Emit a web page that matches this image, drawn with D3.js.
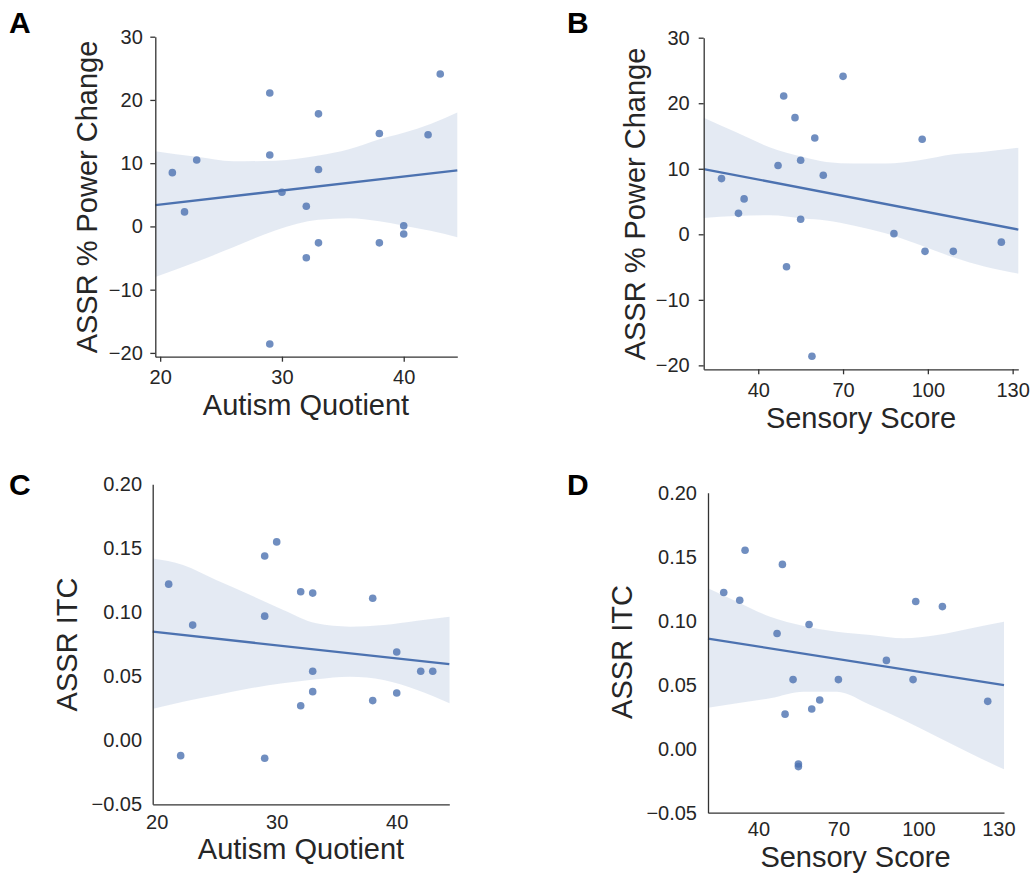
<!DOCTYPE html>
<html>
<head>
<meta charset="utf-8">
<script src="https://cdn.jsdelivr.net/npm/d3@7"></script>
<style>
  body { margin: 0; background: #fff; }
  text { font-family: "Liberation Sans", Arial, sans-serif; fill: #262626; }
</style>
</head>
<body>
<div id="canvas"></div>
<script>
"use strict"

/* ---------- DATA (one entry per subject) ---------- */
let autismQuotient = [21, 22, 23, 29, 29, 29, 30, 32, 32, 33, 33, 33, 38, 38, 40, 40, 42, 43];
let sensoryScore   = [27, 55, 47, 49, 55, 59, 35, 33, 50, 53, 63, 99, 60, 109, 88, 126, 98, 70];
let powerChange    = [8.5, 2.3, 10.5, 21.1, 11.3, -18.6, 5.4, 3.2, -4.95, 17.8, 9.0, -2.6, 14.7, -2.6, 0.1, -1.2, 14.5, 24.1];
let itc            = [0.122, -0.012, 0.090, 0.144, -0.014, 0.097, 0.155, 0.116, 0.027, 0.054, 0.038, 0.115, 0.031, 0.111, 0.069, 0.037, 0.054, 0.054];

/* confidence bands */
let bandAx  = [19.6, 23, 26, 29.5, 33, 35.5, 38, 40, 42.2, 44.4];
let bandAhi = [11.9, 11.0, 10.3, 10.4, 11.2, 12.2, 13.8, 14.8, 16.2, 18.0];
let bandAlo = [-8.0, -5.6, -3.3, -0.6, 1.05, 1.3, 0.8, 0.1, -0.7, -1.7];

let bandBx  = [20.7, 32, 44, 56, 64, 74, 85, 97, 109, 120, 132];
let bandBhi = [17.8, 15.6, 13.3, 11.8, 11.05, 10.8, 10.8, 11.3, 12.2, 12.6, 13.2];
let bandBlo = [2.5, 2.8, 2.9, 2.4, 2.1, 1.3, 0.15, -1.6, -3.5, -4.9, -6.0];

let bandCx  = [19.7, 22.2, 25, 27.8, 30.5, 33.3, 36.1, 38.9, 41.7, 44.4];
let bandChi = [0.142, 0.137, 0.125, 0.1135, 0.102, 0.0914, 0.0888, 0.090, 0.0934, 0.0966];
let bandClo = [0.0247, 0.0302, 0.0354, 0.0406, 0.0445, 0.0477, 0.0497, 0.0471, 0.0393, 0.0289];

let bandDx  = [21.1, 32, 44.4, 57, 69.4, 82, 94.4, 107, 119.4, 132.1];
let bandDhi = [0.1253, 0.1149, 0.1031, 0.0959, 0.0914, 0.0888, 0.0862, 0.0888, 0.094, 0.0992];
let bandDlo = [0.032, 0.0355, 0.0394, 0.0445, 0.0445, 0.0341, 0.0224, 0.0094, -0.0036, -0.0161];

/* tick labels */
let ticksAQ = [20, 30, 40];
let ticksSensory = [40, 70, 100, 130];
let ticksPower = [-20, -10, 0, 10, 20, 30];
let ticksItc = [-0.05, 0, 0.05, 0.10, 0.15, 0.20];

let blue = "#4C72B0";

let drawing = d3.select("#canvas")
  .append("svg")
  .attr("width", 1031)
  .attr("height", 874);

/* least-squares fit, like seaborn regplot */
function fitLine(xs, ys) {
  let mx = d3.mean(xs), my = d3.mean(ys);
  let sxy = d3.sum(xs, (x, i) => (x - mx) * (ys[i] - my));
  let sxx = d3.sum(xs, x => (x - mx) * (x - mx));
  let b = sxy / sxx;
  return x => my + b * (x - mx);
}

function drawPanel(p) {
  let x = d3.scaleLinear().domain(p.xDomain).range(p.xRange);
  let y = d3.scaleLinear().domain(p.yDomain).range(p.yRange);
  let g = drawing.append("g");

  // confidence band
  let area = d3.area()
    .x(d => x(d))
    .y0((d, i) => y(p.bandLo[i]))
    .y1((d, i) => y(p.bandHi[i]))
    .curve(d3.curveMonotoneX);
  g.append("path")
    .attr("d", area(p.bandX))
    .attr("fill", blue)
    .attr("fill-opacity", 0.15);

  // regression line
  let f = fitLine(p.xs, p.ys);
  g.append("line")
    .attr("x1", x(p.xDomain[0])).attr("y1", y(f(p.xDomain[0])))
    .attr("x2", x(p.xDomain[1])).attr("y2", y(f(p.xDomain[1])))
    .attr("stroke", blue)
    .attr("stroke-width", 2.3);

  // points
  g.selectAll("circle.pt")
    .data(p.xs)
    .join("circle")
    .attr("class", "pt")
    .attr("cx", d => x(d))
    .attr("cy", (d, i) => y(p.ys[i]))
    .attr("r", 3.8)
    .attr("fill", blue)
    .attr("fill-opacity", 0.8);

  // axes
  let xAxis = d3.axisBottom(x)
    .tickValues(p.xTicks)
    .tickSize(p.tick).tickSizeOuter(0)
    .tickPadding(p.xPad)
    .tickFormat(d3.format("d"));
  let yAxis = d3.axisLeft(y)
    .tickValues(p.yTicks)
    .tickSize(p.tick).tickSizeOuter(0)
    .tickPadding(p.yPad)
    .tickFormat(p.yFormat);

  let gx = g.append("g")
    .attr("transform", "translate(0," + p.yRange[0] + ")")
    .call(xAxis);
  let gy = g.append("g")
    .attr("transform", "translate(" + p.xRange[0] + ",0)")
    .call(yAxis);

  [gx, gy].forEach(a => {
    a.select(".domain").attr("stroke", "#333").attr("stroke-width", 1.3);
    a.selectAll(".tick line").attr("stroke", "#333").attr("stroke-width", 1.3);
    a.selectAll(".tick text")
      .attr("fill", "#262626")
      .style("font-size", "20px")
      .style("font-family", "'Liberation Sans', Arial, sans-serif");
  });

  // axis titles
  g.append("text")
    .attr("x", p.xLabelPos[0]).attr("y", p.xLabelPos[1])
    .attr("text-anchor", "middle")
    .style("font-size", "29px")
    .text(p.xLabel);
  g.append("text")
    .attr("transform", "translate(" + p.yLabelPos[0] + "," + p.yLabelPos[1] + ") rotate(-90)")
    .attr("text-anchor", "middle")
    .style("font-size", "29px")
    .text(p.yLabel);

  // panel letter
  g.append("text")
    .attr("x", p.letterPos[0]).attr("y", p.letterPos[1])
    .style("font-size", "30px")
    .style("font-weight", "bold")
    .style("fill", "#000")
    .text(p.letter);
}

let fmtPower = d => d3.format("d")(d).replace("-", "\u2212");
let fmtItc = d => d3.format(".2f")(d).replace("-", "\u2212");

drawPanel({
  letter: "A", letterPos: [9, 33],
  xs: autismQuotient, ys: powerChange,
  bandX: bandAx, bandLo: bandAlo, bandHi: bandAhi,
  xDomain: [19.6, 44.4], xRange: [155.3, 457.3],
  yDomain: [-20.6, 30], yRange: [356.7, 36.7],
  xTicks: ticksAQ, yTicks: ticksPower, yFormat: fmtPower,
  tick: 5, xPad: 8.5, yPad: 7.5,
  xLabel: "Autism Quotient", xLabelPos: [306, 414.5],
  yLabel: "ASSR % Power Change", yLabelPos: [97, 197]
});

drawPanel({
  letter: "B", letterPos: [567, 33],
  xs: sensoryScore, ys: powerChange,
  bandX: bandBx, bandLo: bandBlo, bandHi: bandBhi,
  xDomain: [20.7, 132], xRange: [703.7, 1018.3],
  yDomain: [-20.6, 30], yRange: [369.3, 37.7],
  xTicks: ticksSensory, yTicks: ticksPower, yFormat: fmtPower,
  tick: 5, xPad: 8.8, yPad: 9,
  xLabel: "Sensory Score", xLabelPos: [861, 428],
  yLabel: "ASSR % Power Change", yLabelPos: [645, 204]
});

drawPanel({
  letter: "C", letterPos: [9, 495],
  xs: autismQuotient, ys: itc,
  bandX: bandCx, bandLo: bandClo, bandHi: bandChi,
  xDomain: [19.67, 44.38], xRange: [152.7, 449.3],
  yDomain: [-0.05, 0.20], yRange: [804.3, 484.3],
  xTicks: ticksAQ, yTicks: ticksItc, yFormat: fmtItc,
  tick: 0, xPad: 10.6, yPad: 10.6,
  xLabel: "Autism Quotient", xLabelPos: [301, 859],
  yLabel: "ASSR ITC", yLabelPos: [77, 644.5]
});

drawPanel({
  letter: "D", letterPos: [567, 495],
  xs: sensoryScore, ys: itc,
  bandX: bandDx, bandLo: bandDlo, bandHi: bandDhi,
  xDomain: [21.1, 132.1], xRange: [708, 1004],
  yDomain: [-0.05, 0.20], yRange: [812.7, 492.7],
  xTicks: ticksSensory, yTicks: ticksItc, yFormat: fmtItc,
  tick: 0, xPad: 9.6, yPad: 11,
  xLabel: "Sensory Score", xLabelPos: [855.5, 867],
  yLabel: "ASSR ITC", yLabelPos: [631.7, 652]
});
</script>
</body>
</html>
